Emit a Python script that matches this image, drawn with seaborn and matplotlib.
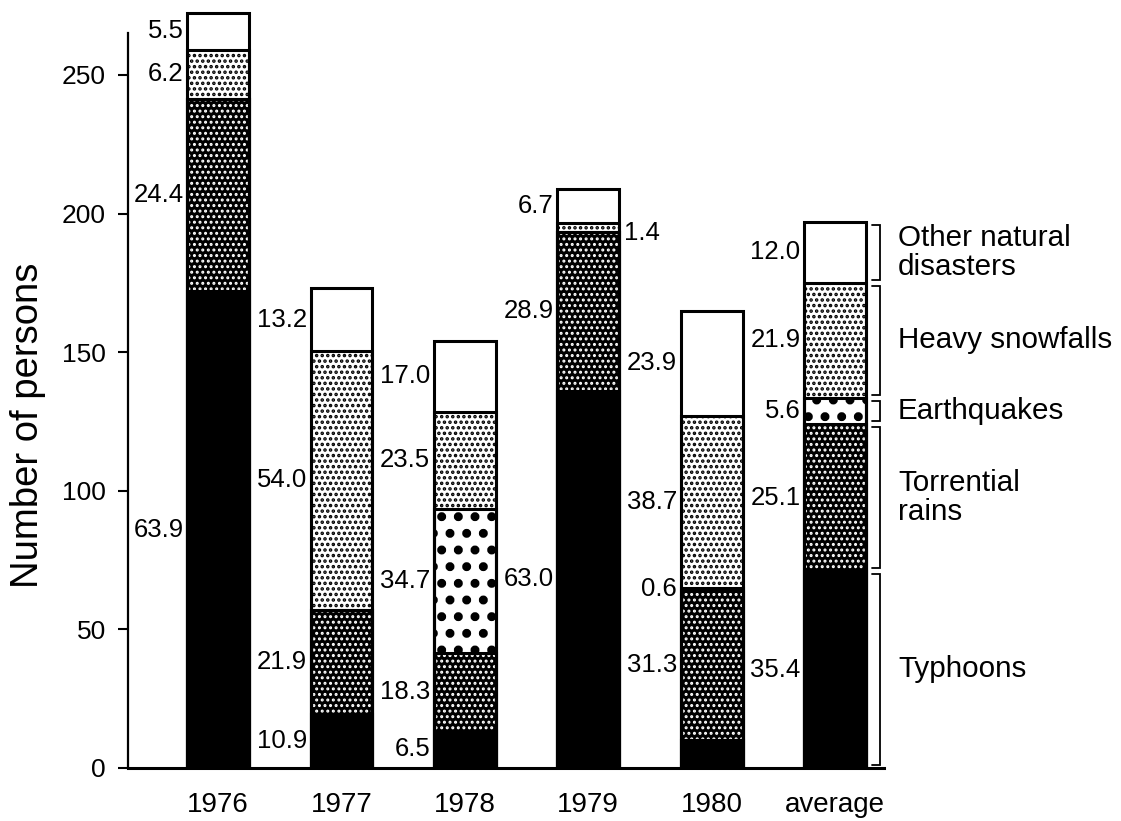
import matplotlib
matplotlib.use("Agg")
import matplotlib.pyplot as plt
import seaborn as sns
import numpy as np

# ---------------- data (number of persons) ----------------
years = ["1976", "1977", "1978", "1979", "1980", "average"]
typhoons = [172.0, 19.5, 13.5, 136.0, 10.0, 71.0]
torrential = [69.5, 37.5, 28.0, 57.5, 54.0, 53.0]
earthquakes = [0.0, 0.0, 52.0, 0.0, 1.0, 9.5]
snowfalls = [17.5, 93.5, 35.0, 3.0, 62.0, 41.5]
other = [13.5, 22.5, 25.5, 12.5, 38.0, 22.0]

# percentage labels printed beside each segment
lab_typhoons = ["63.9", "10.9", "6.5", "63.0", "", "35.4"]
lab_torrential = ["24.4", "21.9", "18.3", "28.9", "31.3", "25.1"]
lab_earthquakes = ["", "", "34.7", "", "0.6", "5.6"]
lab_snowfalls = ["6.2", "54.0", "23.5", "1.4", "38.7", "21.9"]
lab_other = ["5.5", "13.2", "17.0", "6.7", "23.9", "12.0"]

legend_names = ["Typhoons", "Torrential\nrains", "Earthquakes",
                "Heavy snowfalls", "Other natural\ndisasters"]

# ---------------- style ----------------
sns.set_style("ticks")
plt.rcParams["font.family"] = ["Liberation Sans", "DejaVu Sans"]
for k in ["text.color", "axes.labelcolor", "xtick.color", "ytick.color",
          "axes.edgecolor"]:
    plt.rcParams[k] = "black"

layers = [typhoons, torrential, earthquakes, snowfalls, other]
labels = [lab_typhoons, lab_torrential, lab_earthquakes, lab_snowfalls, lab_other]
# (face colour, hatch colour, hatch, hatch linewidth)
styles = [
    ("black", "black", None, 1.0),
    ("black", "white", "...", 1.4),
    ("white", "black", ".", 4.0),
    ("white", "black", "...", 1.7),
    ("white", "black", None, 1.0),
]

cum = np.cumsum(np.array(layers), axis=0)  # tops of each layer
bottoms = np.vstack([np.zeros(len(years)), cum[:-1]])

fig = plt.figure(figsize=(11.21, 8.21), dpi=100)
ax = fig.add_axes([0.1142, 0.0646, 0.6748, 0.9285])

W = 0.5
# draw from the top layer down so lower layers cover upper ones
for i in range(len(layers) - 1, -1, -1):
    face, hcol, hatch, hlw = styles[i]
    plt.rcParams["hatch.linewidth"] = hlw
    kw = dict(hatch=hatch) if hatch else {}
    sns.barplot(x=years, y=cum[i], order=years, color=face, saturation=1,
                edgecolor=hcol, linewidth=0, width=W, errorbar=None, ax=ax, **kw)
    for p in ax.containers[-1]:
        if hasattr(p, "set_hatch_linewidth"):
            p.set_hatch_linewidth(hlw)

# outlines of every segment
for i in range(len(layers) - 1, -1, -1):
    sns.barplot(x=years, y=cum[i], order=years, fill=False, color="black",
                linewidth=2.2, width=W, errorbar=None, ax=ax)

# percentage labels
for i in range(len(layers)):
    for j, yr in enumerate(years):
        txt = labels[i][j]
        if not txt:
            continue
        mid = bottoms[i][j] + layers[i][j] / 2
        if yr == "1979" and i == 3:
            ax.text(j + W / 2 + 0.04, mid - 2, txt, ha="left", va="center",
                    fontsize=18.5, color="black")
        else:
            ax.text(j - W / 2 - 0.03, mid, txt, ha="right", va="center",
                    fontsize=18.5, color="black")

# bracket legend beside the average bar
ja = len(years) - 1
for i in range(len(layers)):
    lo = bottoms[i][ja] + 1.2
    hi = cum[i][ja] - 1.0
    x0, x1 = ja + 0.30, ja + 0.365
    ax.plot([x0, x1, x1, x0], [hi, hi, lo, lo], color="black", lw=1.3,
            clip_on=False, solid_joinstyle="miter")
    ax.text(ja + 0.51, (lo + hi) / 2, legend_names[i], ha="left", va="center",
            fontsize=21.3, linespacing=1.05, clip_on=False, color="black")

# axes cosmetics
ax.set_xlim(-0.73, 5.40)
ax.set_ylim(0, 275)
ax.set_yticks([0, 50, 100, 150, 200, 250])
sns.despine(ax=ax)
ax.spines["left"].set_bounds(0, 265)
ax.spines["left"].set_linewidth(1.6)
ax.spines["bottom"].set_linewidth(2.2)
ax.tick_params(axis="y", direction="out", length=7, width=1.5, pad=9, labelsize=19)
ax.tick_params(axis="x", length=0, pad=17, labelsize=20)
ax.set_xlabel("")
ax.set_ylabel("Number of persons", fontsize=27.5)
ax.yaxis.set_label_coords(-0.108, 0.45)

fig.savefig("out.png", dpi=100)
